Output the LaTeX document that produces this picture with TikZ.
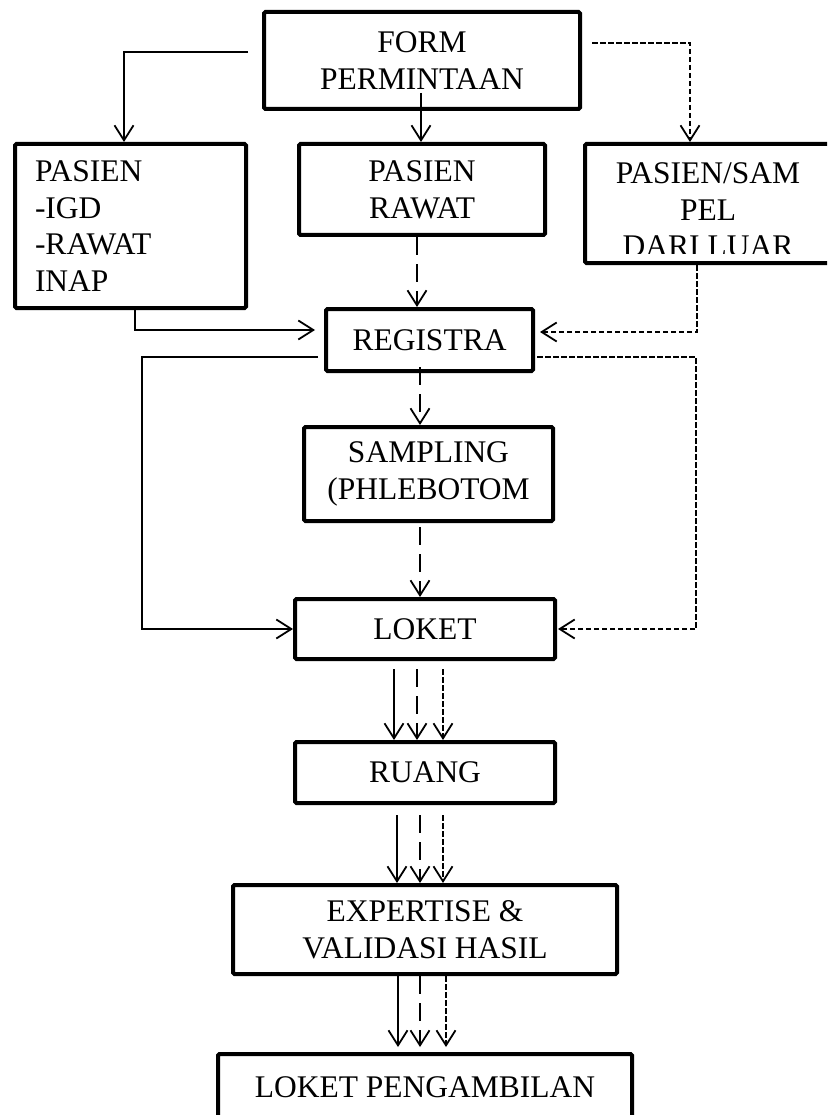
\documentclass[tikz,border=0pt]{standalone}
\usepackage{fontspec}
\setmainfont{Liberation Serif}
\usetikzlibrary{arrows.meta,calc}
\newcommand\boxfont{\fontsize{31.5}{36.7}\selectfont}
\begin{document}
\begin{tikzpicture}[x=1pt,y=-1pt,
  box/.style={draw, line width=4pt, rounded corners=1.5pt, inner sep=0pt, align=center, font=\boxfont},
  con/.style={line width=1.8pt, -{Straight Barb[length=15pt,width=19pt]}},
  ldash/.style={con, dash pattern=on 18pt off 9pt},
  sdash/.style={con, dash pattern=on 5.5pt off 2.5pt}]
\useasboundingbox (0,0) rectangle (827,1115);
\clip (0,0) rectangle (827,1115);

% boxes
\node[box, minimum width=316pt, minimum height=97pt] (form) at (422,60.5) {FORM\\PERMINTAAN};
\node[box, minimum height=164pt, text width=191pt, inner xsep=20pt, align=left] (pigd) at (130.5,226) {PASIEN\\-IGD\\-RAWAT\\INAP};
\node[box, minimum width=246pt, minimum height=91pt] (prawat) at (422,189.5) {PASIEN\\RAWAT};
\node[box, minimum width=247pt, minimum height=119pt] (psam) at (708.5,203.5) {};
\begin{scope}
  \clip (585,144) rectangle (826,253);
  \node[align=center, font=\boxfont, inner sep=0pt] (psamtext) at (708,210) {PASIEN/SAM\\PEL\\DARI LUAR};
\end{scope}
\node[box, minimum width=207pt, minimum height=62pt] (reg) at (429.5,340) {REGISTRA};
\node[box, minimum width=249pt, minimum height=94pt] (samp) at (428.5,474) {SAMPLING\\(PHLEBOTOM};
\node[box, minimum width=260pt, minimum height=60pt] (loket) at (425,629) {LOKET};
\node[box, minimum width=260pt, minimum height=61pt] (ruang) at (425,772.5) {RUANG};
\node[box, minimum width=384pt, minimum height=89pt] (exp) at (425,929.5) {EXPERTISE \&\\VALIDASI HASIL};
\node[box, minimum width=414pt, minimum height=66pt] (lpeng) at (425,1087) {LOKET PENGAMBILAN};

% helper coordinates
\coordinate (lx) at (142,0);
\coordinate (rx) at (696,0);

% FORM -> PASIEN IGD
\coordinate (a1) at ([xshift=-14pt,yshift=8.5pt]form.west);
\draw[con] (a1) -| ([xshift=-6.5pt]pigd.north);
% FORM -> PASIEN RAWAT
\draw[con] ([xshift=-1pt,yshift=18pt]form.south) -- ([xshift=-1pt]prawat.north);
% FORM -> PASIEN/SAMPEL
\coordinate (a2) at ([xshift=10pt,yshift=17.5pt]form.east);
\draw[sdash] (a2) -| ([xshift=-18.5pt]psam.north);

% PASIEN RAWAT -> REGISTRA
\coordinate (b1) at ([xshift=-5pt]prawat.south);
\draw[ldash] (b1) -- (b1 |- reg.north);
% PASIEN IGD -> REGISTRA
\coordinate (b2) at ([xshift=4.5pt]pigd.south);
\draw[con] (b2) |- ([xshift=-9pt,yshift=10pt]reg.west);
% PASIEN/SAMPEL -> REGISTRA
\coordinate (b3) at ([xshift=-11.5pt]psam.south);
\draw[sdash] (b3) |- ([xshift=5pt,yshift=8pt]reg.east);

% REGISTRA -> LOKET (left, solid)
\coordinate (c1) at ([xshift=-6pt,yshift=-17pt]reg.west);
\draw[con] (c1) -- (c1 -| lx) |- (loket.west);
% REGISTRA -> LOKET (right, dashed)
\coordinate (c2) at ([xshift=2pt,yshift=-17pt]reg.east);
\draw[sdash] (c2) -- (c2 -| rx) |- ([xshift=1pt]loket.east);
% REGISTRA -> SAMPLING
\coordinate (c3) at ([xshift=-9.5pt,yshift=6pt]reg.south);
\draw[ldash] (c3) -- (c3 |- samp.north);
% SAMPLING -> LOKET
\coordinate (c4) at ([xshift=-8.5pt,yshift=-4pt]samp.south);
\draw[ldash] (c4) -- (c4 |- loket.north);

% LOKET -> RUANG
\coordinate (d1) at ([xshift=-31pt,yshift=-8pt]loket.south);
\coordinate (d2) at ([xshift=-8pt,yshift=-8pt]loket.south);
\coordinate (d3) at ([xshift=18pt,yshift=-8pt]loket.south);
\draw[con] (d1) -- (d1 |- ruang.north);
\draw[ldash] (d2) -- (d2 |- ruang.north);
\draw[sdash] (d3) -- (d3 |- ruang.north);

% RUANG -> EXPERTISE
\coordinate (e1) at ([xshift=-28pt,yshift=-10pt]ruang.south);
\coordinate (e2) at ([xshift=-5pt,yshift=-10pt]ruang.south);
\coordinate (e3) at ([xshift=18pt,yshift=-10pt]ruang.south);
\draw[con] (e1) -- (e1 |- exp.north);
\draw[ldash] (e2) -- (e2 |- exp.north);
\draw[sdash] (e3) -- (e3 |- exp.north);

% EXPERTISE -> LOKET PENGAMBILAN
\coordinate (f1) at ([xshift=-27pt]exp.south);
\coordinate (f2) at ([xshift=-5pt]exp.south);
\coordinate (f3) at ([xshift=21pt]exp.south);
\coordinate (g1) at ([xshift=-27pt,yshift=5pt]lpeng.north);
\coordinate (g2) at ([xshift=-5pt,yshift=5pt]lpeng.north);
\coordinate (g3) at ([xshift=21pt,yshift=5pt]lpeng.north);
\draw[con] (f1) -- (g1);
\draw[ldash] (f2) -- (g2);
\draw[sdash] (f3) -- (g3);
\end{tikzpicture}
\end{document}
